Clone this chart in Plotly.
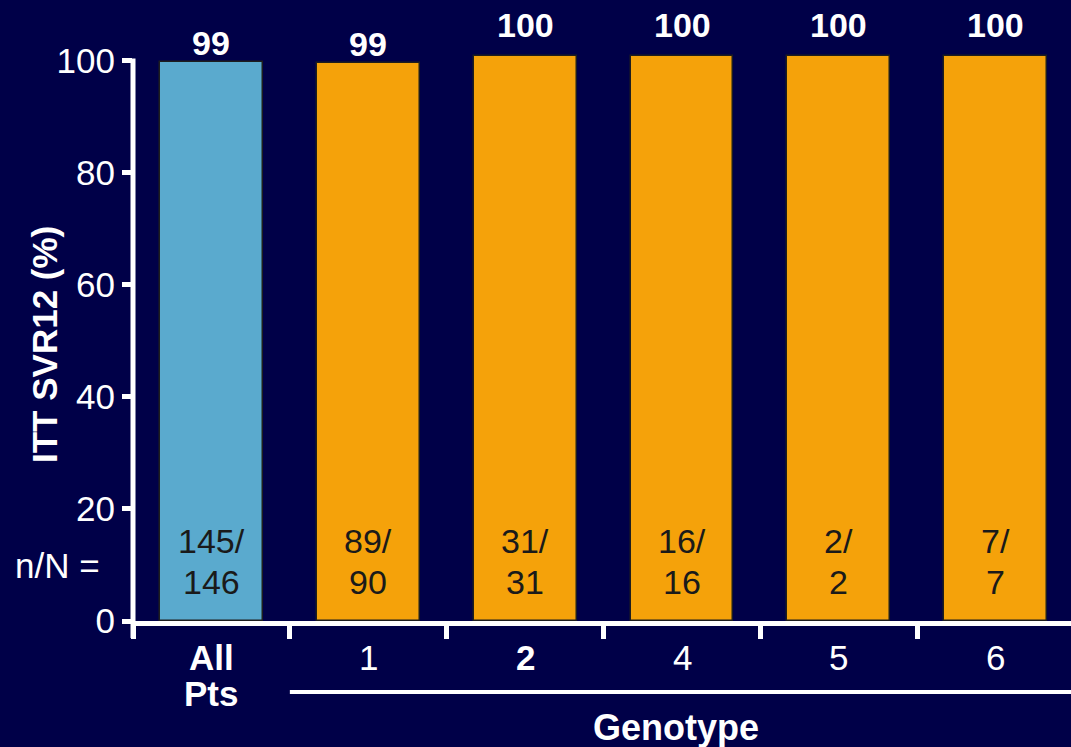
import plotly.graph_objects as go

# ---------------- data ----------------
categories = ["All Pts", "1", "2", "4", "5", "6"]
svr_pct = [99.8, 99.6, 100.9, 100.9, 100.9, 100.9]   # bar heights as drawn
pct_labels = ["99", "99", "100", "100", "100", "100"]
n_resp = [145, 89, 31, 16, 2, 7]
n_total = [146, 90, 31, 16, 2, 7]
y_ticks = [0, 20, 40, 60, 80, 100]

# ---------------- style ----------------
BG = "#000048"
WHITE = "#FFFFFF"
bar_colors = ["#5AAACE"] + ["#F5A20A"] * 5
cat_bold = [True, False, True, False, False, False]
label_shift = [19, 19, 31, 31, 31, 31]
FONT = "Arial, Liberation Sans, sans-serif"

W, H = 1071, 747
ML, MR, MT, MB = 133, 0, 16, 126
XR = [-0.5, 5.48]
YR = [0, 108]
plot_w = W - ML - MR
plot_h = H - MT - MB


def xp(px):
    return (px - ML) / plot_w


def yp(py):
    return (H - MB - py) / plot_h


def xd(x):
    return (x - XR[0]) / (XR[1] - XR[0])


def yd(y):
    return (y - YR[0]) / (YR[1] - YR[0])


xs = list(range(len(categories)))

fig = go.Figure()
fig.add_trace(go.Bar(
    x=xs, y=svr_pct, width=0.656,
    marker=dict(color=bar_colors, line=dict(color="#1E1E1E", width=1.5)),
    hoverinfo="skip", showlegend=False,
))

ann = []
# value labels above bars
for i, (v, t) in enumerate(zip(svr_pct, pct_labels)):
    ann.append(dict(x=i, y=v, xref="x", yref="y", text=f"<b>{t}</b>",
                    showarrow=False, yanchor="middle", yshift=label_shift[i],
                    font=dict(size=34, color=WHITE, family=FONT)))
# n/N inside bars (two lines)
for i, (n, N) in enumerate(zip(n_resp, n_total)):
    ann.append(dict(x=i, y=yd(0) , xref="x", yref="y", text=f"{n}/",
                    showarrow=False, yanchor="middle", yshift=621 - 541,
                    font=dict(size=34, color="#1A1A1A", family=FONT)))
    ann.append(dict(x=i, y=yd(0), xref="x", yref="y", text=f"{N}",
                    showarrow=False, yanchor="middle", yshift=621 - 582,
                    font=dict(size=34, color="#1A1A1A", family=FONT)))
# category labels
for i, c in enumerate(categories):
    for j, line in enumerate(c.split(" ")):
        txt = f"<b>{line}</b>" if cat_bold[i] else line
        ann.append(dict(x=i, y=yp(657 + 36 * j), xref="x", yref="paper", text=txt,
                        showarrow=False, yanchor="middle",
                        font=dict(size=35, color=WHITE, family=FONT)))
# Genotype
ann.append(dict(x=xp(676), y=yp(727), xref="paper", yref="paper", text="<b>Genotype</b>",
                showarrow=False, yanchor="middle",
                font=dict(size=36, color=WHITE, family=FONT)))
# n/N =
ann.append(dict(x=xp(57), y=yp(565), xref="paper", yref="paper", text="n/N =",
                showarrow=False, yanchor="middle", xanchor="center",
                font=dict(size=35, color=WHITE, family=FONT)))
# y title
ann.append(dict(x=xp(44), y=yp(345), xref="paper", yref="paper", text="<b>ITT SVR12 (%)</b>",
                showarrow=False, textangle=-90, xanchor="center", yanchor="middle",
                font=dict(size=35, color=WHITE, family=FONT)))

shapes = [
    # y axis line from below 0 to 100
    dict(type="line", xref="paper", yref="paper", x0=xd(-0.5), x1=xd(-0.5),
         y0=yp(638), y1=yd(100) + 0.004, line=dict(color=WHITE, width=5)),
    # genotype underline
    dict(type="line", xref="paper", yref="paper", x0=xd(0.5), x1=1.0,
         y0=yp(692), y1=yp(692), line=dict(color=WHITE, width=4)),
]

fig.update_layout(
    width=W, height=H,
    margin=dict(l=ML, r=MR, t=MT, b=MB, pad=0),
    paper_bgcolor=BG, plot_bgcolor=BG,
    bargap=0,
    annotations=ann, shapes=shapes,
    xaxis=dict(range=XR, tickmode="array",
               tickvals=[-0.5, 0.5, 1.5, 2.5, 3.5, 4.5, 5.5],
               showticklabels=False, ticks="outside", ticklen=13, tickwidth=5,
               tickcolor=WHITE, showline=True, linecolor=WHITE, linewidth=5,
               showgrid=False, zeroline=False, fixedrange=True),
    yaxis=dict(range=YR, tickmode="array", tickvals=y_ticks,
               ticks="outside", ticklen=10, tickwidth=5, tickcolor=WHITE,
               tickfont=dict(size=35, color=WHITE, family=FONT),
               showline=False, showgrid=False, zeroline=False, fixedrange=True),
)

fig.write_html(
    "out.html",
    config={"displayModeBar": False},
    post_script="document.body.style.margin='0';document.body.style.overflow='hidden';document.body.style.background='#000048';",
)
